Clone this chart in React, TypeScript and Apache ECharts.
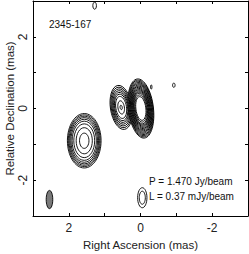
import React, { useEffect, useRef } from "react";
import * as echarts from "echarts";

// Axis ticks (mas)
const raTicks = [-3, -2, -1, 0, 1, 2, 3];
const decTicks = [-3, -2, -1, 0, 1, 2, 3];

// Source components (relative RA / Dec in mas)
const compNames = ["SE knot", "inner jet", "core", "north speck", "west speck 1", "west speck 2", "south speck"];
const compRA = [1.57, 0.54, -0.01, 1.28, -0.3, -0.93, -0.05];
const compDec = [-0.9, 0.03, 0.0, 2.87, 0.6, 0.65, -2.49];
const compSemiRA = [0.47, 0.3, 0.35, 0.05, 0.02, 0.035, 0.13];
const compSemiDec = [0.76, 0.62, 0.83, 0.1, 0.06, 0.06, 0.28];
const compTilt = [0, 0.15, 0.12, 0, 0, 0, 0];
// relative size of each contour level inside a component
const compLevels = [
  [1, 0.95, 0.9, 0.85, 0.79, 0.72, 0.62, 0.48, 0.28],
  [1, 0.92, 0.84, 0.76, 0.68, 0.6, 0.5, 0.3, 0.1],
  [1, 0.96, 0.92, 0.88, 0.84, 0.8, 0.76, 0.72, 0.68, 0.64, 0.6, 0.56, 0.52, 0.46, 0.4],
  [1],
  [1],
  [1],
  [1, 0.65],
];

// Restoring beam
const beamRA = 2.54;
const beamDec = -2.54;
const beamSemiRA = 0.092;
const beamSemiDec = 0.255;

const sourceName = "2345-167";
const peakText = "P = 1.470 Jy/beam";
const lowestText = "L = 0.37 mJy/beam";

const FONT = "'Liberation Sans', Arial, Helvetica, sans-serif";

export default function App() {
  const ref = useRef<HTMLDivElement>(null);
  useEffect(() => {
    if (!ref.current) return;
    const chart = echarts.init(ref.current, undefined, { renderer: "svg" });

    const rings: number[][] = [];
    compNames.forEach((_, i) => {
      compLevels[i].forEach((s) => {
        rings.push([compRA[i], compDec[i], compSemiRA[i] * s, compSemiDec[i] * s, compTilt[i], 0]);
      });
    });
    rings.push([beamRA, beamDec, beamSemiRA, beamSemiDec, 0, 1]);

    const lbl = (v: number) => (v % 2 === 0 ? String(v) : "");
    const common = {
      type: "value" as const,
      min: raTicks[0],
      max: raTicks[raTicks.length - 1],
      interval: 1,
      axisLine: { show: true, onZero: false, lineStyle: { color: "#000", width: 1 } },
      axisTick: { show: true, inside: true, length: 3, lineStyle: { color: "#000" } },
      splitLine: { show: false },
    };

    chart.setOption({
      animation: false,
      backgroundColor: "#fff",
      grid: { left: 33, right: 1, top: 1, bottom: 38, containLabel: false, outerBoundsMode: "none" },
      xAxis: [
        {
          ...common,
          position: "bottom",
          inverse: true,
          axisLabel: { formatter: lbl, fontSize: 12, color: "#222", fontFamily: FONT, margin: 6 },
          name: "Right Ascension (mas)",
          nameLocation: "middle",
          nameGap: 22,
          nameTextStyle: { fontSize: 11.5, color: "#222", fontFamily: FONT },
        },
        { ...common, position: "top", inverse: true, axisLabel: { show: false } },
      ],
      yAxis: [
        {
          ...common,
          min: decTicks[0],
          max: decTicks[decTicks.length - 1],
          position: "left",
          axisLabel: { formatter: lbl, fontSize: 12, color: "#222", fontFamily: FONT, rotate: 90, margin: 4 },
          name: "Relative Declination (mas)",
          nameLocation: "middle",
          nameGap: 17,
          nameMoveOverlap: false,
          nameTextStyle: { fontSize: 11.5, color: "#222", fontFamily: FONT },
        },
        { ...common, min: decTicks[0], max: decTicks[decTicks.length - 1], position: "right", axisLabel: { show: false } },
      ],
      series: [
        {
          type: "custom",
          xAxisIndex: 0,
          yAxisIndex: 0,
          data: rings,
          encode: { x: 0, y: 1 },
          renderItem: (_p: any, api: any) => {
            const c = api.coord([api.value(0), api.value(1)]);
            const s = api.size([api.value(2), api.value(3)]);
            const beam = api.value(5) === 1;
            return {
              type: "ellipse",
              x: c[0],
              y: c[1],
              rotation: api.value(4),
              shape: { cx: 0, cy: 0, rx: Math.abs(s[0]), ry: Math.abs(s[1]) },
              style: { fill: beam ? "#7a7a7a" : "#fff", stroke: "#000", lineWidth: 0.9 },
            };
          },
        },
      ],
      graphic: [
        { type: "text", left: 49, top: 19, style: { text: sourceName, fontSize: 10, fill: "#111", fontFamily: FONT } },
        { type: "text", left: 149, top: 176, style: { text: peakText, fontSize: 10, fill: "#111", fontFamily: FONT } },
        { type: "text", left: 149, top: 191, style: { text: lowestText, fontSize: 10, fill: "#111", fontFamily: FONT } },
      ],
    });
    return () => chart.dispose();
  }, []);
  return (
    <div
      ref={ref}
      style={{ position: "fixed", left: 0, top: 0, width: 249, height: 254, background: "#fff" }}
    />
  );
}
